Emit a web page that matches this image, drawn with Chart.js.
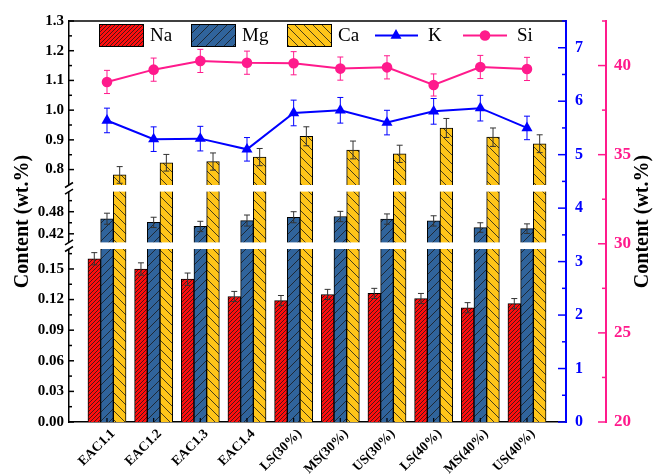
<!DOCTYPE html>
<html>
<head>
<meta charset="utf-8">
<script src="https://cdn.jsdelivr.net/npm/chart.js@4.4.1/dist/chart.umd.min.js"></script>
<style>
html, body { margin: 0; padding: 0; background: #fff; }
#grafico { display: block; }
</style>
</head>
<body>
<canvas id="grafico" width="653" height="474"></canvas>
<script>
// ============================================
// DATOS
// ============================================

const muestras = ['EAC1.1', 'EAC1.2', 'EAC1.3', 'EAC1.4', 'LS(30%)', 'MS(30%)', 'US(30%)', 'LS(40%)', 'MS(40%)', 'US(40%)'];
const series = ['Na', 'Mg', 'Ca', 'K', 'Si'];

const valoresNa = [0.160, 0.150, 0.140, 0.123, 0.119, 0.125, 0.126, 0.121, 0.112, 0.116];
const erroresNa = [0.006, 0.006, 0.006, 0.005, 0.005, 0.005, 0.005, 0.005, 0.005, 0.005];
const valoresMg = [0.461, 0.451, 0.440, 0.456, 0.465, 0.467, 0.460, 0.455, 0.437, 0.434];
const erroresMg = [0.015, 0.014, 0.014, 0.015, 0.015, 0.014, 0.014, 0.014, 0.013, 0.013];
const valoresCa = [0.782, 0.823, 0.827, 0.842, 0.912, 0.866, 0.853, 0.940, 0.909, 0.887];
const erroresCa = [0.028, 0.028, 0.029, 0.029, 0.032, 0.030, 0.029, 0.032, 0.031, 0.030];
const valoresK = [5.64, 5.29, 5.30, 5.10, 5.78, 5.83, 5.60, 5.81, 5.87, 5.50];
const erroresK = [0.23, 0.23, 0.23, 0.22, 0.24, 0.24, 0.23, 0.24, 0.24, 0.22];
const valoresSi = [39.08, 39.77, 40.26, 40.16, 40.13, 39.83, 39.90, 38.91, 39.92, 39.81];
const erroresSi = [0.65, 0.65, 0.65, 0.65, 0.65, 0.65, 0.65, 0.62, 0.65, 0.65];

// ticks del eje izquierdo (roto en tres tramos) y de los ejes derechos
const ticksSuperior = [0.8, 0.9, 1.0, 1.1, 1.2, 1.3];
const ticksMedio = [0.42, 0.48];
const ticksInferior = [0.00, 0.03, 0.06, 0.09, 0.12, 0.15];
const ticksK = [0, 1, 2, 3, 4, 5, 6, 7];
const ticksSi = [20, 25, 30, 35, 40];

// ============================================
// COLORES Y FUENTES
// ============================================

const colores = {
    Na: '#ff0d0d',
    Mg: '#30649c',
    Ca: '#ffc519',
    K: '#0000ff',
    Si: '#ff1a8c',
    trama: '#1a1a1a',
    error: '#333333'
};

const serif = "'Liberation Serif', 'Times New Roman', serif";
const fuenteTicks = { family: serif, weight: 'bold', size: 15 };

// ============================================
// TRAMAS (hatch)
// ============================================

function crearTrama(fondo, paso, direccion, grosor) {
    const c = document.createElement('canvas');
    c.width = paso;
    c.height = paso;
    const g = c.getContext('2d');
    g.fillStyle = fondo;
    g.fillRect(0, 0, paso, paso);
    g.strokeStyle = colores.trama;
    g.lineWidth = grosor;
    g.beginPath();
    if (direccion === '/') {
        g.moveTo(-1, paso + 1); g.lineTo(paso + 1, -1);
        g.moveTo(-1, 1); g.lineTo(1, -1);
        g.moveTo(paso - 1, paso + 1); g.lineTo(paso + 1, paso - 1);
    } else {
        g.moveTo(-1, -1); g.lineTo(paso + 1, paso + 1);
        g.moveTo(paso - 1, -1); g.lineTo(paso + 1, 1);
        g.moveTo(-1, paso - 1); g.lineTo(1, paso + 1);
    }
    g.stroke();
    return g.createPattern(c, 'repeat');
}

const tramas = {
    Na: crearTrama(colores.Na, 4, '/', 0.8),
    Mg: crearTrama(colores.Mg, 9, '/', 0.8),
    Ca: crearTrama(colores.Ca, 9, '\\', 0.8)
};

// ============================================
// DATASETS
// ============================================

const puntos = (valores) => muestras.map((m, i) => ({ x: i + 1, y: valores[i] }));

function barra(nombre, valores, eje) {
    return {
        type: 'bar',
        label: nombre,
        stack: nombre,
        yAxisID: eje,
        data: puntos(valores),
        backgroundColor: tramas[nombre],
        borderColor: '#000',
        borderWidth: 1,
        borderSkipped: 'start',
        barThickness: 12.7,
        clip: 0
    };
}

const datasets = [
    {
        type: 'line', label: 'K', yAxisID: 'yK', data: puntos(valoresK),
        borderColor: colores.K, backgroundColor: colores.K, borderWidth: 2,
        pointStyle: 'triangle', pointRadius: 6.4, pointBorderWidth: 0, tension: 0
    },
    {
        type: 'line', label: 'Si', yAxisID: 'ySi', data: puntos(valoresSi),
        borderColor: colores.Si, backgroundColor: colores.Si, borderWidth: 2,
        pointStyle: 'circle', pointRadius: 5.3, pointBorderWidth: 0, tension: 0
    },
    barra('Na', valoresNa, 'yBot'),
    barra('Mg', valoresMg, 'yBot'),
    barra('Mg', valoresMg, 'yMid'),
    barra('Ca', valoresCa, 'yBot'),
    barra('Ca', valoresCa, 'yMid'),
    barra('Ca', valoresCa, 'yTop')
];

// ============================================
// ESCALAS
// ============================================

function escalaIzquierda(min, max, peso, ticks, decimales) {
    return {
        type: 'linear', position: 'left', stack: 'izq', stackWeight: peso,
        min: min, max: max, stacked: false,
        grid: { display: false, drawTicks: false, tickLength: 0 },
        border: { display: true, color: '#000', width: 1.5 },
        ticks: {
            color: '#000', padding: 5, autoSkip: false, font: fuenteTicks,
            callback: (v) => Number(v).toFixed(decimales)
        },
        afterBuildTicks: (s) => { s.ticks = ticks.map(v => ({ value: v })); },
        afterFit: (s) => { s.width = 69; }
    };
}

function escalaDerecha(min, max, ticks, color, ancho, tam, pad) {
    return {
        type: 'linear', position: 'right', min: min, max: max,
        grid: { display: false, drawTicks: false, tickLength: 0 },
        border: { display: true, color: color, width: 2 },
        ticks: {
            color: color, padding: pad, autoSkip: false,
            font: { family: serif, weight: 'bold', size: tam },
            callback: (v) => String(v)
        },
        afterBuildTicks: (s) => { s.ticks = ticks.map(v => ({ value: v })); },
        afterFit: (s) => { s.width = ancho; }
    };
}

// ============================================
// DECORACION: errores, cortes, marcas, leyenda, titulos
// ============================================

function barrasError(ctx, meta, escala, valores, errores, color, semi) {
    ctx.save();
    ctx.strokeStyle = color;
    ctx.lineWidth = 1;
    meta.data.forEach((el, i) => {
        const x = el.x;
        const y1 = escala.getPixelForValue(valores[i] + errores[i]);
        const y2 = escala.getPixelForValue(valores[i] - errores[i]);
        ctx.beginPath();
        ctx.moveTo(x, y1); ctx.lineTo(x, y2);
        ctx.moveTo(x - semi, y1); ctx.lineTo(x + semi, y1);
        ctx.moveTo(x - semi, y2); ctx.lineTo(x + semi, y2);
        ctx.stroke();
    });
    ctx.restore();
}

function marcas(ctx, escala, valores, x, dir, largo, color, huecos) {
    ctx.save();
    ctx.strokeStyle = color;
    ctx.lineWidth = 1.5;
    valores.forEach(v => {
        const y = escala.getPixelForValue(v);
        if (y < escala.top - 0.5 || y > escala.bottom + 0.5) return;
        if (huecos.some(h => Math.abs(y - h) < 4)) return;
        ctx.beginPath();
        ctx.moveTo(x, y);
        ctx.lineTo(x + dir * largo, y);
        ctx.stroke();
    });
    ctx.restore();
}

function menores(mayores, extra) {
    const paso = mayores[1] - mayores[0];
    const lista = [];
    for (let i = -1; i < mayores.length + extra; i++) lista.push(mayores[0] + paso * (i + 0.5));
    return lista;
}

function tituloVertical(ctx, texto, x, y) {
    ctx.save();
    ctx.translate(x, y);
    ctx.rotate(-Math.PI / 2);
    ctx.font = 'bold 20px ' + serif;
    ctx.fillStyle = '#000';
    ctx.textAlign = 'center';
    ctx.textBaseline = 'middle';
    ctx.fillText(texto, 0, 0);
    ctx.restore();
}

function leyenda(ctx) {
    const yc = 35.5;
    ctx.save();
    ctx.font = '19px ' + serif;
    ctx.textBaseline = 'middle';
    ctx.textAlign = 'left';
    [[99, 'Na'], [191, 'Mg'], [287, 'Ca']].forEach(([x0, nombre]) => {
        ctx.fillStyle = tramas[nombre];
        ctx.fillRect(x0, 24, 45, 23);
        ctx.strokeStyle = '#000';
        ctx.lineWidth = 1;
        ctx.strokeRect(x0 + 0.5, 24.5, 44, 22);
        ctx.fillStyle = '#000';
        ctx.fillText(nombre, x0 + 51, yc + 1);
    });
    // K
    ctx.strokeStyle = colores.K; ctx.lineWidth = 2;
    ctx.beginPath(); ctx.moveTo(375, yc); ctx.lineTo(418, yc); ctx.stroke();
    ctx.fillStyle = colores.K;
    ctx.beginPath();
    ctx.moveTo(396, yc - 6.4); ctx.lineTo(396 + 5.5, yc + 3.2); ctx.lineTo(396 - 5.5, yc + 3.2);
    ctx.closePath(); ctx.fill();
    ctx.fillStyle = '#000';
    ctx.fillText(series[3], 428, yc + 1);
    // Si
    ctx.strokeStyle = colores.Si;
    ctx.beginPath(); ctx.moveTo(463, yc); ctx.lineTo(507, yc); ctx.stroke();
    ctx.fillStyle = colores.Si;
    ctx.beginPath(); ctx.arc(485, yc, 5.3, 0, Math.PI * 2); ctx.fill();
    ctx.fillStyle = '#000';
    ctx.fillText(series[4], 517, yc + 1);
    ctx.restore();
}

const pluginDecoracion = {
    id: 'decoracion',
    beforeDatasetsDraw(chart) {
        const ctx = chart.ctx;
        barrasError(ctx, chart.getDatasetMeta(0), chart.scales.yK, valoresK, erroresK, colores.K, 3);
        barrasError(ctx, chart.getDatasetMeta(1), chart.scales.ySi, valoresSi, erroresSi, colores.Si, 3);
    },
    afterDatasetsDraw(chart) {
        const ctx = chart.ctx;
        const area = chart.chartArea;
        const { x, yTop, yMid, yBot, yK, ySi } = chart.scales;
        const cortes = [yTop.bottom, yMid.bottom];

        // huecos del eje roto
        ctx.save();
        ctx.fillStyle = '#fff';
        cortes.forEach(c => ctx.fillRect(area.left - 3, c - 3.3, area.right - area.left + 1, 6.6));
        ctx.strokeStyle = '#000';
        ctx.lineWidth = 1.5;
        cortes.forEach(c => {
            [c - 3.3, c + 3.3].forEach(y => {
                ctx.beginPath();
                ctx.moveTo(area.left - 4, y + 2.5);
                ctx.lineTo(area.left + 4, y - 2.5);
                ctx.stroke();
            });
        });
        // marco superior
        ctx.beginPath();
        ctx.moveTo(area.left, area.top);
        ctx.lineTo(area.right, area.top);
        ctx.stroke();
        ctx.restore();

        // barras de error
        barrasError(ctx, chart.getDatasetMeta(2), yBot, valoresNa, erroresNa, colores.error, 3);
        barrasError(ctx, chart.getDatasetMeta(4), yMid, valoresMg, erroresMg, colores.error, 3);
        barrasError(ctx, chart.getDatasetMeta(7), yTop, valoresCa, erroresCa, colores.error, 3);

        // marcas hacia dentro
        const xl = area.left;
        [[yTop, ticksSuperior], [yMid, ticksMedio], [yBot, ticksInferior]].forEach(([s, t]) => {
            marcas(ctx, s, t, xl, 1, 5, '#000', cortes);
            marcas(ctx, s, menores(t, 1), xl, 1, 3, '#000', cortes);
        });
        marcas(ctx, yK, ticksK, yK.left, -1, 8, colores.K, []);
        marcas(ctx, yK, menores(ticksK, 1), yK.left, -1, 4, colores.K, []);
        marcas(ctx, ySi, ticksSi, ySi.left, -1, 8, colores.Si, []);
        marcas(ctx, ySi, menores(ticksSi, 1), ySi.left, -1, 4, colores.Si, []);

        ctx.save();
        ctx.strokeStyle = '#000';
        ctx.lineWidth = 1.2;
        muestras.forEach((m, i) => {
            const px = x.getPixelForValue(i + 1);
            ctx.beginPath();
            ctx.moveTo(px, area.bottom);
            ctx.lineTo(px, area.bottom - 4);
            ctx.stroke();
        });
        ctx.restore();

        leyenda(ctx);
        const yc = (area.top + area.bottom) / 2;
        tituloVertical(ctx, 'Content (wt.%)', 23, yc);
        tituloVertical(ctx, 'Content (wt.%)', 643, yc);
    }
};

// ============================================
// GRAFICO
// ============================================

new Chart(document.getElementById('grafico'), {
    data: { datasets: datasets },
    options: {
        responsive: false,
        animation: false,
        layout: { padding: { top: 21, left: 0, right: 0, bottom: 0 } },
        plugins: { legend: { display: false }, tooltip: { enabled: false } },
        scales: {
            x: {
                type: 'linear', position: 'bottom', min: 0.186, max: 10.836,
                offset: false,
                grid: { display: false, drawTicks: false, tickLength: 0, offset: false },
                border: { display: true, color: '#000', width: 1.5 },
                ticks: {
                    autoSkip: false, minRotation: 45, maxRotation: 45, padding: 4, labelOffset: 6,
                    color: '#000', font: { family: serif, weight: 'bold', size: 13.5 },
                    callback: (v) => muestras[v - 1] || ''
                },
                afterBuildTicks: (s) => { s.ticks = muestras.map((m, i) => ({ value: i + 1 })); },
                afterFit: (s) => { s.height = 52; }
            },
            yBot: escalaIzquierda(0, 0.1728, 176.3, ticksInferior, 2),
            yMid: escalaIzquierda(0.3877, 0.5436, 57.4, ticksMedio, 2),
            yTop: escalaIzquierda(0.737, 1.3, 167.3, ticksSuperior, 1),
            yK: escalaDerecha(0, 7.5, ticksK, colores.K, 40, 16, 9),
            ySi: escalaDerecha(20, 42.5, ticksSi, colores.Si, 47, 17, 8)
        }
    },
    plugins: [pluginDecoracion]
});
</script>
</body>
</html>
